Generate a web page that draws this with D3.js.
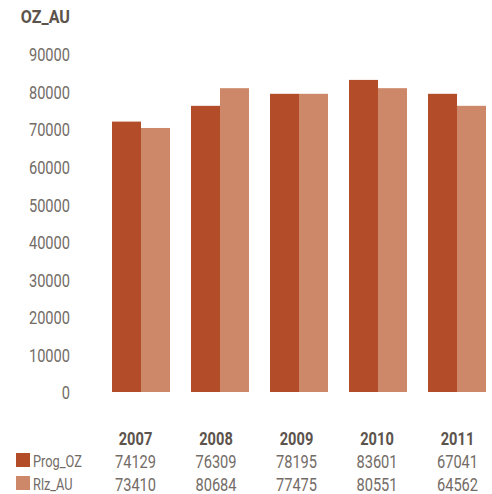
<!DOCTYPE html>
<html>
<head>
<meta charset="utf-8">
<script src="https://cdn.jsdelivr.net/npm/d3@7"></script>
<style>
  body { margin: 0; background: #fff; }
  text { font-family: Roboto, "Liberation Sans", sans-serif; }
</style>
</head>
<body>
<div id="chart"></div>
<script>
// years on the x axis
var years = ["2007", "2008", "2009", "2010", "2011"]
var series = ["Prog_OZ", "Rlz_AU"]
// bar heights as drawn in the picture
var progBars = [72000, 76200, 79400, 83100, 79400]
var rlzBars = [70300, 80900, 79400, 80900, 76200]
// numbers printed in the table under the chart
var progTable = ["74129", "76309", "78195", "83601", "67041"]
var rlzTable = ["73410", "80684", "77475", "80551", "64562"]
var yTicks = [0, 10000, 20000, 30000, 40000, 50000, 60000, 70000, 80000, 90000]
var colors = ["#b24c29", "#cc8868"]

const width = 492
const height = 494
const narrow = 0.77   // the original font is a condensed one

const svg = d3.select("#chart")
  .append("svg")
  .attr("width", width)
  .attr("height", height)

var y = d3.scaleLinear()
  .domain([0, 90000])
  .range([392, 54])

var x = d3.scaleBand()
  .domain(years)
  .range([112, 486])
  .paddingInner(0.266)
  .paddingOuter(0)

var xSub = d3.scaleBand()
  .domain(series)
  .range([0, x.bandwidth()])

// y axis labels only, no line
var yAxis = svg.append("g")
  .attr("transform", "translate(70,0) scale(" + narrow + ",1)")
  .call(d3.axisLeft(y).tickValues(yTicks).tickSize(0).tickPadding(0).tickFormat(d3.format("d")))
yAxis.select(".domain").remove()
yAxis.selectAll("text")
  .attr("dy", "0.36em")
  .style("font-size", "19px")
  .style("font-family", "Roboto")
  .style("fill", "#736c66")

svg.append("text")
  .attr("transform", "translate(70,23) scale(0.85,1)")
  .attr("text-anchor", "end")
  .style("font-size", "19px")
  .style("font-weight", "bold")
  .style("fill", "#5c534c")
  .text("OZ_AU")

var rows = years.map(function (d, i) {
  return { year: d, vals: [progBars[i], rlzBars[i]] }
})

svg.append("g")
  .selectAll("g")
  .data(rows)
  .enter()
  .append("g")
  .attr("transform", function (d) { return "translate(" + x(d.year) + ",0)" })
  .selectAll("rect")
  .data(function (d) { return d.vals.map(function (v, j) { return { s: series[j], v: v, j: j } }) })
  .enter()
  .append("rect")
  .attr("x", function (d) { return xSub(d.s) })
  .attr("width", xSub.bandwidth())
  .attr("y", function (d) { return y(d.v) })
  .attr("height", function (d) { return y(0) - y(d.v) })
  .style("fill", function (d) { return colors[d.j] })

// data table underneath
var col = d3.scalePoint()
  .domain(years)
  .range([135.5, 457.5])

svg.append("g")
  .selectAll("text")
  .data(years)
  .enter()
  .append("text")
  .attr("transform", function (d) { return "translate(" + col(d) + ",445) scale(" + narrow + ",1)" })
  .attr("text-anchor", "middle")
  .style("font-size", "19px")
  .style("font-weight", "bold")
  .style("fill", "#5c534c")
  .text(function (d) { return d })

var tableRows = [progTable, rlzTable]
var rowY = [468, 491]

tableRows.forEach(function (vals, r) {
  svg.append("rect")
    .attr("x", 16)
    .attr("y", rowY[r] - 15)
    .attr("width", 14)
    .attr("height", 14)
    .style("fill", colors[r])

  svg.append("text")
    .attr("transform", "translate(33," + (rowY[r] - 1) + ") scale(0.8,1)")
    .style("font-size", "16px")
    .style("fill", "#736c66")
    .text(series[r])

  svg.append("g")
    .selectAll("text")
    .data(vals)
    .enter()
    .append("text")
    .attr("transform", function (d, i) { return "translate(" + col(years[i]) + "," + rowY[r] + ") scale(" + narrow + ",1)" })
    .attr("text-anchor", "middle")
    .style("font-size", "19px")
    .style("fill", "#736c66")
    .text(function (d) { return d })
})
</script>
</body>
</html>
